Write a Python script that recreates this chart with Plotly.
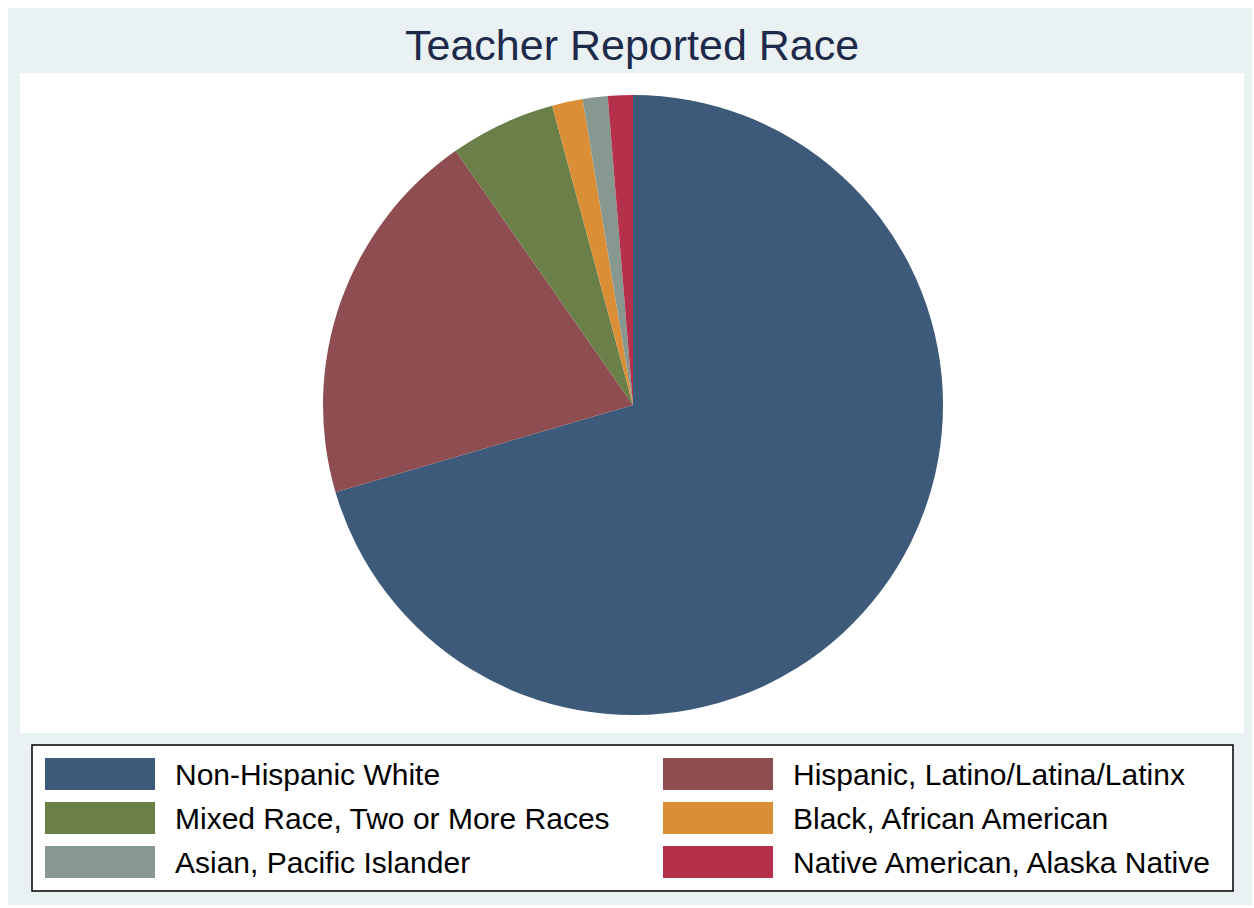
import plotly.graph_objects as go

# ---- data ----
categories = [
    "Non-Hispanic White",
    "Hispanic, Latino/Latina/Latinx",
    "Mixed Race, Two or More Races",
    "Black, African American",
    "Asian, Pacific Islander",
    "Native American, Alaska Native",
]
percents = [70.5, 19.85, 5.5, 1.6, 1.3, 1.3]
colors = ["#3D5A7B", "#8E4E51", "#6B8049", "#DA8F37", "#869890", "#B5304A"]
title_text = "Teacher Reported Race"

W, H = 1254, 908


def px(x):
    return x / W


def py(y):
    return 1 - y / H


# pie geometry (pixels)
cx, cy, r = 633, 405, 310

fig = go.Figure(
    go.Pie(
        labels=categories,
        values=percents,
        marker=dict(colors=colors, line=dict(width=0)),
        sort=False,
        direction="clockwise",
        rotation=0,
        textinfo="none",
        hoverinfo="label+percent",
        showlegend=False,
        domain=dict(x=[px(cx - r), px(cx + r)], y=[py(cy + r), py(cy - r)]),
    )
)

shapes = [
    # outer light background
    dict(type="rect", xref="paper", yref="paper", x0=px(8), x1=px(1252), y0=py(905), y1=py(8),
         fillcolor="#EAF1F3", line=dict(width=0), layer="below"),
    # white plot region
    dict(type="rect", xref="paper", yref="paper", x0=px(20), x1=px(1244), y0=py(733), y1=py(73),
         fillcolor="white", line=dict(width=0), layer="below"),
    # legend box
    dict(type="rect", xref="paper", yref="paper", x0=px(32), x1=px(1233), y0=py(891), y1=py(745),
         fillcolor="white", line=dict(color="black", width=1.5), layer="below"),
]

annotations = [
    dict(text=title_text, xref="paper", yref="paper", x=px(632), y=py(45), xanchor="center",
         yanchor="middle", showarrow=False,
         font=dict(family="Liberation Sans, Arial, sans-serif", size=43, color="#1E2A4A")),
]

col_swatch_x = [45, 663]
col_text_x = [173, 791]
row_top = [758, 802, 846]
sw_w, sw_h = 110, 32
for i, (name, col) in enumerate(zip(categories, colors)):
    c = i % 2
    rr = i // 2
    x0 = col_swatch_x[c]
    y0 = row_top[rr]
    shapes.append(dict(type="rect", xref="paper", yref="paper", x0=px(x0), x1=px(x0 + sw_w),
                       y0=py(y0 + sw_h), y1=py(y0), fillcolor=col, line=dict(width=0)))
    annotations.append(dict(text=name, xref="paper", yref="paper", x=px(col_text_x[c]),
                            y=py(y0 + sw_h / 2), xanchor="left", yanchor="middle", showarrow=False,
                            font=dict(family="Liberation Sans, Arial, sans-serif", size=30, color="black")))

fig.update_layout(
    width=W,
    height=H,
    margin=dict(l=0, r=0, t=0, b=0),
    paper_bgcolor="white",
    plot_bgcolor="white",
    shapes=shapes,
    annotations=annotations,
    showlegend=False,
)

fig.write_html("out.html")
